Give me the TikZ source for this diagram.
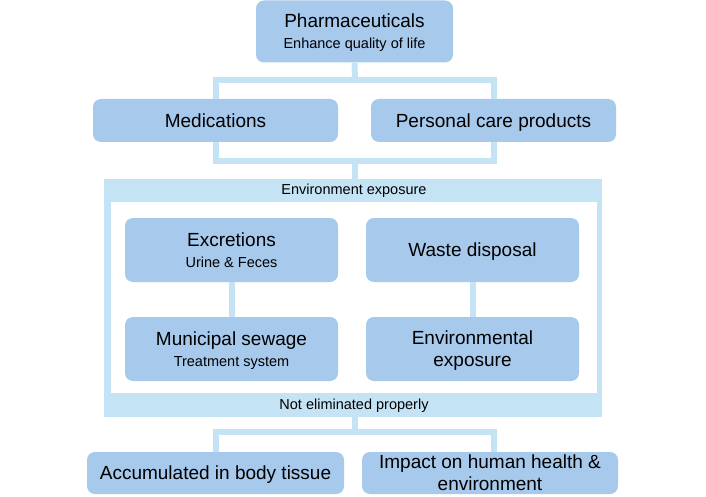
\documentclass[tikz,border=0pt]{standalone}
\usepackage{fontspec}
\setmainfont{Liberation Sans}
\definecolor{boxfill}{RGB}{166,201,236}
\definecolor{band}{RGB}{196,228,246}
\begin{document}
\begin{tikzpicture}[x=1pt,y=-1pt,
  blk/.style={draw=none, fill=boxfill, rounded corners=8pt, inner sep=0pt, align=center,
    text depth=0pt, font=\fontsize{19}{22}\selectfont, text=black},
  conn/.style={draw=band, line width=6pt},
  bandlbl/.style={inner sep=0pt, font=\fontsize{14.5}{17}\selectfont, text=black}]
\useasboundingbox (0,0) rectangle (706,497);
\newcommand{\subt}[1]{{\fontsize{14.5}{17}\selectfont #1}}
% top
\node[blk, minimum width=197, minimum height=62] (pharma) at (354.5,31.5)
  {Pharmaceuticals\\[-1pt]\subt{Enhance quality of life}};
\node[blk, minimum width=245, minimum height=43] (med) at (215.5,120.5) {Medications};
\node[blk, minimum width=245, minimum height=43] (pc) at (493.5,120.5) {Personal care products};
% frame
\node[fill=band, inner sep=0pt, minimum width=498, minimum height=238] (frame) at (353,298) {};
\node[fill=white, inner sep=0pt, minimum width=486, minimum height=191] (inner) at (354,297.5) {};
\node[bandlbl] (envlbl) at (354,191) {Environment exposure};
\node[bandlbl] (notlbl) at (354,406) {Not eliminated properly};
\node[blk, minimum width=213, minimum height=64] (exc) at (231.5,250)
  {Excretions\\[-1pt]\subt{Urine \& Feces}};
\node[blk, minimum width=213, minimum height=64] (waste) at (472.5,250) {Waste disposal};
\node[blk, minimum width=213, minimum height=64] (mun) at (231.5,349)
  {Municipal sewage\\[-1pt]\subt{Treatment system}};
\node[blk, minimum width=213, minimum height=64] (envexp) at (472.5,349) {Environmental\\exposure};
% bottom
\node[blk, minimum width=257, minimum height=42] (acc) at (215.5,473) {Accumulated in body tissue};
\node[blk, minimum width=256, minimum height=42] (imp) at (490,473) {Impact on human health \&\\environment};
% connectors
\coordinate (t1) at (355,80.5);
\coordinate (b1) at (355,161);
\coordinate (c1) at (355,432);
\coordinate (cr) at (494,432);
\draw[conn] (pharma.south) -- (t1);
\draw[conn] (med.north) |- (t1) -| (pc.north);
\draw[conn] (med.south) |- (b1) -| (pc.south);
\draw[conn] (b1) -- (b1 |- frame.north);
\draw[conn] (exc.south) -- (mun.north);
\draw[conn] (waste.south) -- (envexp.north);
\draw[conn] (c1 |- frame.south) -- (c1);
\draw[conn] (acc.north) |- (c1) -- (cr) -- (cr |- imp.north);
\end{tikzpicture}
\end{document}
